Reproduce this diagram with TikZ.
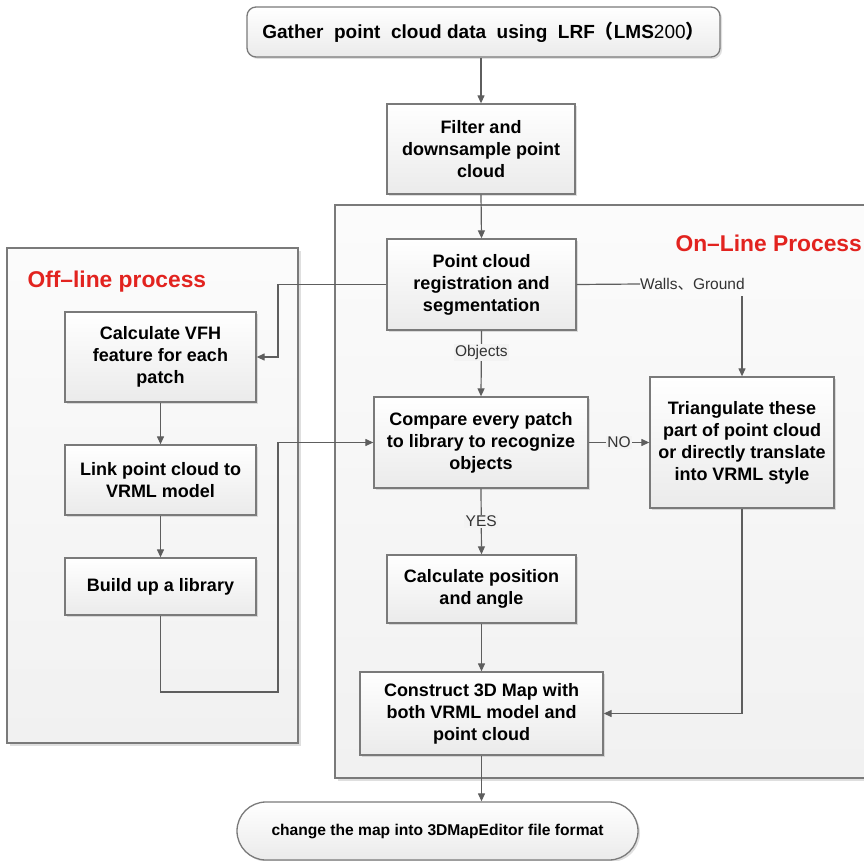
\documentclass[tikz,border=0pt]{standalone}
\usepackage{fontspec}
\setmainfont{Liberation Sans}
\newfontfamily\cjk{Noto Sans CJK SC}
\usetikzlibrary{shadows,arrows.meta}
\definecolor{linegray}{HTML}{5E5E5E}
\definecolor{boxborder}{HTML}{7A7A7A}
\definecolor{redtitle}{HTML}{E2231F}
\definecolor{grpfill}{HTML}{F3F3F3}
\tikzset{
  box/.style={draw=boxborder, line width=1.3pt, top color=white, bottom color=gray!16,
    drop shadow={shadow xshift=2pt, shadow yshift=-2pt, opacity=0.25, fill=gray},
    align=center, font=\bfseries\fontsize{18}{22}\selectfont, inner sep=0pt},
  group/.style={draw=boxborder, line width=1.3pt, top color=gray!3, bottom color=gray!11,
    drop shadow={shadow xshift=3pt, shadow yshift=-3pt, opacity=0.25, fill=gray}},
  conn/.style={draw=linegray, line width=1.2pt, -{Triangle[length=8pt,width=7pt]}},
  plain/.style={draw=linegray, line width=1.2pt},
  lbl/.style={font=\fontsize{15.5}{18}\selectfont, text=black!80, fill=grpfill, inner sep=1.5pt},
  title/.style={font=\bfseries\fontsize{22.8}{26}\selectfont, text=redtitle}
}
\begin{document}
\begin{tikzpicture}[x=1pt,y=-1pt]
\useasboundingbox (0,0) rectangle (864,861);
% groups
\path[group] (335,205) rectangle (884,778);
\path[group] (7,248) rectangle (298,743);
\node[title, anchor=west] (ontitle) at (672,243) {On–Line Process};
\node[title, anchor=west] (offtitle) at (24,282) {Off–line process};
% nodes
\node[box, rounded corners=9pt, minimum width=473pt, minimum height=50pt] (top) at (483.5,32)
  {\fontsize{19}{22}\selectfont Gather\ \ point\ \ cloud data\ \ using\ \ LRF{\cjk （}LMS{\mdseries 200}{\cjk ）}};
\node[box, minimum width=188pt, minimum height=90pt] (filter) at (481,149)
  {Filter and\\downsample point\\cloud};
\node[box, minimum width=189pt, minimum height=91pt] (reg) at (481.5,284.5)
  {Point cloud\\registration and\\segmentation};
\node[box, minimum width=191pt, minimum height=90pt] (vfh) at (160.5,357)
  {Calculate VFH\\feature for each\\patch};
\node[box, minimum width=191pt, minimum height=70pt] (link) at (160.5,480)
  {Link point cloud to\\VRML model};
\node[box, minimum width=191pt, minimum height=57pt] (build) at (160.5,586.5)
  {Build up a library};
\node[box, minimum width=214pt, minimum height=91pt] (compare) at (481,442.5)
  {Compare every patch\\to library to recognize\\objects};
\node[box, minimum width=184pt, minimum height=131pt] (tri) at (742,442.5)
  {Triangulate these\\part of point cloud\\or directly translate\\into VRML style};
\node[box, minimum width=189pt, minimum height=68pt] (calc) at (481.5,589)
  {Calculate position\\and angle};
\node[box, minimum width=243pt, minimum height=83pt] (construct) at (481.5,713.5)
  {Construct 3D Map with\\both VRML model and\\point cloud};
\node[box, rounded corners=29pt, minimum width=401pt, minimum height=58pt, font=\bfseries\fontsize{15.6}{20}\selectfont] (final) at (437.5,831)
  {change the map into 3DMapEditor file format};
\node[lbl, fill=none, inner sep=0pt, anchor=west] (wg) at (640,284) {Walls{\cjk 、}Ground};
% helper coordinates
\coordinate (c1) at (278,357);
\coordinate (c2) at (278,692);
\coordinate (c3) at (742,296);
% connectors
\draw[conn] (top.south -| filter.north) -- (filter.north);
\draw[conn] (filter.south) -- (reg.north);
\draw[conn] (reg.west) -| (c1) -- (vfh.east);
\draw[conn] (vfh.south) -- (link.north);
\draw[conn] (link.south) -- (build.north);
\draw[conn] (build.south) |- (c2) |- (compare.west);
\draw[conn] (reg.south) -- node[lbl, pos=0.33] (objects) {Objects} (compare.north);
\draw[plain] (reg.east) -- (wg.west);
\draw[conn] (c3) -- (tri.north);
\draw[conn] (compare.east) -- node[lbl] (no) {NO} (tri.west);
\draw[conn] (compare.south) -- node[lbl] (yes) {YES} (calc.north);
\draw[conn] (calc.south) -- (construct.north);
\draw[conn] (tri.south) |- (construct.east);
\draw[conn] (construct.south) -- (construct.south |- final.north);
\end{tikzpicture}
\end{document}
